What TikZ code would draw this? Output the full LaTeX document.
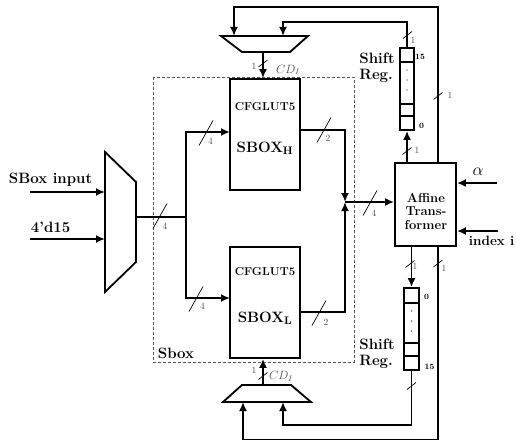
\documentclass[tikz,border=0pt]{standalone}
\usepackage{amsmath}
\usepackage{tikz}
\usetikzlibrary{positioning,arrows.meta}
\definecolor{BusGray}{HTML}{4D4D4D}
\definecolor{FrameGray}{HTML}{555555}

\begin{document}
\begin{tikzpicture}[x=1pt,y=-1pt,line width=1.8pt,
    arr/.style={-{Latex[length=9pt,width=8pt]}},
    lutbox/.style={draw,minimum width=70pt,minimum height=111pt,inner sep=0pt},
    regbox/.style={draw,minimum width=14pt,minimum height=82pt,inner sep=0pt},
    lbl/.style={font=\fontsize{15}{16}\selectfont\bfseries,inner sep=0pt},
    wlbl/.style={font=\fontsize{9.5}{10}\selectfont,text=BusGray,inner sep=0pt},
    idx/.style={font=\fontsize{8}{9}\selectfont\bfseries,inner sep=0pt}]
    \useasboundingbox (0,0) rectangle (516,441);
    % sbox frame
    \draw[FrameGray,line width=0.8pt,dash pattern=on 3pt off 2pt]
      (153,77) rectangle (354,362);
    \node[lbl,anchor=base west] (sboxlbl) at (157,358) {Sbox};

    % input mux
    \draw (105,152) -- (136,182) -- (136,262) -- (105,292) -- cycle;
    \coordinate (mi1) at (105,192);
    \coordinate (mi2) at (105,239);
    \coordinate (mo) at (136,217);
    \coordinate (si1) at (30,192);
    \coordinate (si2) at (30,239);
    \node[lbl,anchor=base west] (sbin) at (8,183) {SBox input};
    \node[lbl,anchor=base west] (cst) at (30,232) {4'd15};
    \draw[arr] (si1) -- (mi1);
    \draw[arr] (si2) -- (mi2);

    % sbox halves
    \node[lutbox] (sbh) at (265,134.5) {};
    \node[lutbox] (sbl) at (265,302.5) {};
    \node[font=\fontsize{11.5}{12}\selectfont\bfseries] (cfgh) at (265,107) {CFGLUT5};
    \node[font=\fontsize{11.5}{12}\selectfont\bfseries] (cfgl) at (265,272) {CFGLUT5};
    \node[lbl,anchor=base] (nmh) at (265,152) {SBOX$_{\mathbf{H}}$};
    \node[lbl,anchor=base] (nml) at (265,322) {SBOX$_{\mathbf{L}}$};
    \coordinate (fork) at (186,217);
    \coordinate (hin) at (230,132);
    \coordinate (lin) at (230,298);
    \draw (mo) -- (fork);
    \draw[arr] (fork) |- (hin);
    \draw[arr] (fork) |- (lin);

    % affine transformer
    \node[draw,minimum width=61pt,minimum height=83pt,inner sep=0pt] (aff) at (425.5,204.5) {};
    \node[align=center,font=\fontsize{13}{13.5}\selectfont\bfseries,inner sep=0pt]
      (afftxt) at (426,211) {Affine\\Trans-\\former};
    \coordinate (hout) at (300,130);
    \coordinate (lout) at (300,312);
    \coordinate (jn) at (345,202);
    \draw[arr] (hout) -| (jn);
    \draw[arr] (lout) -| (jn);
    \draw[arr] (jn) -- (aff.west |- jn);
    \coordinate (ain) at (497,183);
    \coordinate (iin) at (498,231);
    \draw[arr] (ain) -- (aff.east |- ain);
    \draw[arr] (iin) -- (aff.east |- iin);
    \node[font=\fontsize{16}{16}\selectfont] (alab) at (478,172) {$\alpha$};
    \node[lbl,font=\fontsize{13.5}{14}\selectfont\bfseries,anchor=west] (ilab) at (468,241) {index i};

    % shift registers
    \node[regbox] (sru) at (407,89) {};
    \node[regbox,minimum width=15pt] (srl) at (411.5,329) {};
    \foreach \y in {62,104,116}{
      \draw (sru.west |- 0,\y) -- (sru.east |- 0,\y);
    }
    \foreach \y in {303,343,356}{
      \draw (srl.west |- 0,\y) -- (srl.east |- 0,\y);
    }
    \foreach \y in {70,80,90}{
      \fill (407,\y) circle (0.6);
      \fill (411.5,\y+241) circle (0.6);
    }
    \node[idx] (iu15) at (420,57) {15};
    \node[idx] (iu0) at (421.5,126) {0};
    \node[idx] (il0) at (426.5,297) {0};
    \node[idx] (il15) at (429.5,367) {15};
    \node[lbl,align=left] (sruname) at (377,68) {Shift\\Reg.};
    \node[lbl,align=left] (srlname) at (377,354) {Shift\\Reg.};

    % feedback muxes
    \draw (221,36) -- (308,36) -- (290,52) -- (242,52) -- cycle;
    \draw (223,402) -- (311,402) -- (291,385) -- (242,385) -- cycle;
    \coordinate (mut1) at (234,36);
    \coordinate (mut2) at (283,36);
    \coordinate (muto) at (263,52);
    \coordinate (mlb1) at (243,402);
    \coordinate (mlb2) at (283,402);
    \coordinate (mlo) at (263,385);
    \coordinate (lpu) at (283,22);
    \coordinate (lpo) at (234,7);
    \coordinate (lpl) at (283,425);
    \coordinate (lpb) at (243,439.5);
    \coordinate (fbu) at (438,163);
    \coordinate (fbl) at (438,246);
    \draw[arr] (muto) -- (sbh.north -| muto);
    \draw[arr] (mlo) -- (sbl.south -| mlo);
    \draw[arr] (aff.north -| sru) -- (sru.south);
    \draw[arr] (aff.south -| srl) -- (srl.north);
    \draw[arr] (sru.north) |- (lpu) -- (mut2);
    \draw[arr] (fbu) |- (lpo) -- (mut1);
    \draw[arr] (srl.south) |- (lpl) -- (mlb2);
    \draw[arr] (fbl) |- (lpb) -- (mlb1);
    \node[font=\fontsize{12}{12}\selectfont,text=BusGray] (cdu) at (288,70) {$CD_I$};
    \node[font=\fontsize{12}{12}\selectfont,text=BusGray] (cdd) at (281,376) {$CD_I$};

    % bus widths
    \foreach \n/\x/\y/\lx/\ly/\lab in {m/160/216/165/226/4,h/206/133/210.5/141.5/4,
      ho/324/130/328/138/2,a/370/203/374/213/4,l/196/299/202.5/306.5/4,lo/319/313/326/322/2}{
      \draw[line width=0.7pt] (\x-7,\y+12.5) -- (\x+7,\y-12.5);
      \node[wlbl] (w\n) at (\lx,\ly) {\lab};
    }
    \foreach \n/\x/\y/\lx/\ly in {su/407.5/35/413/40,ou/438/96/450/95,mu/263/63.5/254/66,
      au/407/151/417/150,ad/410/264/415/266,od/438/263.5/444/268,md/263/376/254/370}{
      \draw[line width=0.7pt] (\x-4.5,\y+3.5) -- (\x+4.5,\y-3.5);
      \node[wlbl] (w\n) at (\lx,\ly) {1};
    }
    \draw[line width=0.7pt] (407,389.5) -- (416,382.5);
  \end{tikzpicture}
\end{document}
